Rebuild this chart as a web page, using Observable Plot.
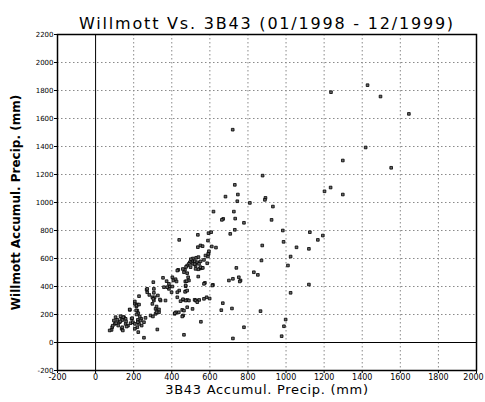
<!DOCTYPE html>
<html><head><meta charset="utf-8">
<script src="https://cdn.jsdelivr.net/npm/d3@7"></script>
<script src="https://cdn.jsdelivr.net/npm/@observablehq/plot@0.6"></script>
<style>body{margin:0;background:#fff}</style>
</head><body><div id="chart"></div>
<script>
const title = "Willmott Vs. 3B43 (01/1998 - 12/1999)";
const xLabel = "3B43 Accumul. Precip. (mm)";
const yLabel = "Willmott Accumul. Precip. (mm)";
const xTicks = [-200,0,200,400,600,800,1000,1200,1400,1600,1800,2000];
const yTicks = [-200,0,200,400,600,800,1000,1200,1400,1600,1800,2000,2200];

// 3B43 accumulated precipitation (x)
const b3b43 = [
1428,1236,1496,1645,1418,1298,1552,877,720,1234,1202,1298,810,892,889,931,779,924,983,1125,1193,1167,987,875,1055,1120,1024,1010,871,831,852,761,1120,1024,866,998,989,977,779,721,
731,747,682,744,619,726,670,663,733,537,593,607,731,707,439,590,537,551,562,610,632,593,590,739,752,757,700,721,616,574,583,599,668,716,660,553,464,460,520,530,544,460,509,455,473,473,490,471,539,548,557,539,415,422,481,459,470,439,388,385,403,354,373,403,408,420,425,486,478,434,595,577,592,
507,521,534,495,490,511,525,543,551,569,586,499,481,551,563,525,469,464,481,429,511,528,540,500,475,458,520,
359,376,385,306,271,399,429,473,481,569,613,298,306,298,315,324,333,315,341,367,429,446,473,490,525,534,481,437,464,455,569,416,
84,74,87,101,96,114,108,126,135,149,158,140,137,143,140,158,184,196,206,189,222,240,262,254,242,219,206,228,224,254,119,105,90,130,160,170,
180,219,224,289,301,206,219,214,228,268,306,310,303,222,236,192,232,213,215,215,206,228,320,333,320,338,327,303,271,282,324,163,145,131,179
];
// Willmott accumulated precipitation (y)
const willmott = [
1838,1788,1757,1633,1393,1300,1248,1192,1520,1107,1080,1057,997,1033,1019,971,855,876,800,788,764,733,719,693,680,669,614,550,586,502,483,443,414,355,224,164,116,45,109,29,
1126,1057,1042,1009,935,935,883,876,885,769,781,788,805,776,733,728,681,693,688,686,678,638,614,533,466,436,443,455,412,426,323,314,281,243,231,148,55,193,305,300,304,305,240,233,366,402,443,436,471,528,533,523,205,216,304,309,362,371,400,383,400,462,438,466,443,452,436,466,438,519,652,621,633,
585,580,573,573,562,562,550,562,580,590,566,538,550,538,533,526,519,502,495,514,600,605,610,595,540,525,560,
395,395,419,383,359,359,359,407,371,419,407,323,300,276,240,228,216,205,300,300,323,295,300,300,300,288,252,216,228,186,312,209,
90,86,109,133,157,162,138,145,176,181,169,160,98,86,109,133,138,145,133,169,162,169,176,145,121,109,98,133,74,34,121,181,120,150,150,120,
233,228,209,193,186,276,271,257,331,378,355,323,312,145,157,174,186,229,200,264,293,271,257,236,216,307,336,431,383,340,93,114,181,188,236
];

const points = b3b43.map((x, i) => ({x, y: willmott[i]}));
const font = "DejaVu Sans";
const lastX = xTicks[xTicks.length - 1];
const fmtX = d => d === lastX ? "" : String(d);
const fmt = d => String(d);

const chart = Plot.plot({
  width: 485,
  height: 402,
  marginLeft: 57,
  marginRight: 9,
  marginTop: 34,
  marginBottom: 32,
  style: {fontFamily: font, background: "#fff", color: "#000"},
  x: {domain: [-200, 2000]},
  y: {domain: [-200, 2200]},
  marks: [
    Plot.gridX(xTicks.filter(t => t > -200 && t < 2000 && t !== 0), {stroke: "#8a8a8a", strokeOpacity: 1, strokeWidth: 1, strokeDasharray: "1.5,2.5"}),
    Plot.gridY(yTicks.filter(t => t > -200 && t < 2200 && t !== 0), {stroke: "#8a8a8a", strokeOpacity: 1, strokeWidth: 1, strokeDasharray: "1.5,2.5"}),
    Plot.ruleX([0], {stroke: "#000", strokeWidth: 1}),
    Plot.ruleY([0], {stroke: "#000", strokeWidth: 1}),
    Plot.dot(points, {x: "x", y: "y", symbol: "square", r: 1.5, fill: "#666", stroke: "#000", strokeWidth: 0.8}),
    Plot.frame({stroke: "#000", strokeWidth: 1.5}),
    Plot.axisX({ticks: xTicks, tickFormat: fmtX, tickSize: 3, tickPadding: 1, label: null, fontSize: 8}),
    Plot.text([lastX], {x: d => d, frameAnchor: "bottom", lineAnchor: "top", dy: 4, dx: -3, text: fmt, fontSize: 8, fill: "#000"}),
    Plot.axisY({ticks: yTicks, tickFormat: fmt, tickSize: 3, tickPadding: 1, label: null, fontSize: 7}),
    Plot.text([title], {frameAnchor: "top", dy: -17, fontSize: 16, fill: "#000", className: "ttl"}),
    Plot.text([xLabel], {frameAnchor: "bottom", dy: 23, fontSize: 13, fill: "#000", className: "xlab"}),
    Plot.text([yLabel], {frameAnchor: "left", dx: -41, rotate: -90, textAnchor: "middle", fontSize: 12, fontWeight: "bold", fill: "#000"})
  ]
});
d3.select(chart).selectAll(".ttl text").style("letter-spacing", "1.8px");
d3.select(chart).selectAll(".xlab text").style("letter-spacing", "0.7px");
document.getElementById("chart").appendChild(chart);
</script>
</body></html>
